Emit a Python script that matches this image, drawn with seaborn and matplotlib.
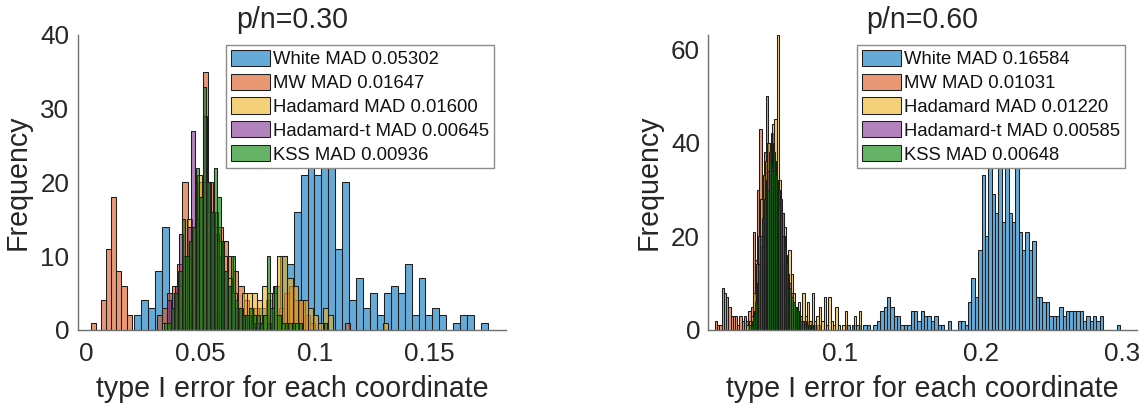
import numpy as np
import pandas as pd
import matplotlib
matplotlib.use("Agg")
import matplotlib.pyplot as plt
import seaborn as sns

# ---------------- data ----------------
series_names = ["White", "MW", "Hadamard", "Hadamard-t", "KSS"]
mad_030 = ["0.05302", "0.01647", "0.01600", "0.00645", "0.00936"]
mad_060 = ["0.16584", "0.01031", "0.01220", "0.00585", "0.00648"]
titles = ["p/n=0.30", "p/n=0.60"]

# p/n = 0.30  (first bin edge, bin width, counts per bin)
white_030_start, white_030_width = 0.0210, 0.00303
white_030_counts = [2, 4, 3, 8, 14, 5, 3, 2, 3, 2, 2, 1, 2, 1, 2, 1, 2, 2, 3, 4, 6, 10,
                    9, 16, 21, 23, 21, 26, 22, 11, 20,
                    4, 7, 3, 5, 2, 5, 6, 5, 9, 2, 7, 2, 3, 2, 0, 1, 2, 2, 0, 1]
mw_030_start, mw_030_width = 0.0022, 0.00222
mw_030_counts = [1, 0, 4, 11, 18, 8, 6, 2, 0, 0, 0, 0, 0, 2, 3, 5, 6, 9, 20, 12, 14, 20, 35,
                 20, 16, 14, 12, 10, 8, 6, 4, 3, 3, 2, 2, 1, 2, 3, 5, 6, 4, 4, 2, 1, 0, 0,
                 0, 0, 0, 0, 1]
had_030_start, had_030_width = 0.0330, 0.0022
had_030_counts = [1, 1, 3, 6, 10, 15, 14, 21, 20, 16, 14, 12, 10, 7, 5, 3, 5, 5, 5, 4, 6, 5,
                  5, 10, 10, 7, 6, 4, 4, 3, 2, 1, 3, 2, 0, 0, 0, 0, 0, 0, 0, 0, 0, 0, 1]
hadt_030_start, hadt_030_width = 0.0355, 0.00175
hadt_030_counts = [4, 3, 6, 13, 10, 14, 27, 15, 18, 29, 20, 16, 13, 10, 8, 6, 5, 3, 3, 2, 2,
                   1, 1, 1, 0, 1]
kss_030_start, kss_030_width = 0.0340, 0.00155
kss_030_counts = [1, 1, 3, 5, 8, 15, 10, 12, 14, 22, 18, 33, 20, 16, 22, 18, 12, 8, 6, 10, 4,
                  3, 2, 2, 3, 2, 2, 1, 2, 10, 3, 6, 2, 1, 1, 1, 1, 1, 1, 0, 0, 0, 0, 0, 0, 1]

# p/n = 0.60
white_060_start, white_060_width = 0.1045, 0.0024
white_060_counts = [1, 0, 1, 1, 0, 1, 1, 0, 1, 2, 4, 5, 7, 5, 3, 3, 1, 1, 1, 4, 4, 2, 4, 3,
                    3, 2, 3, 1, 1, 0, 2, 0, 0, 2, 2, 1, 6, 11, 7, 17, 33, 20, 38, 29, 25, 36,
                    23, 35, 25, 23, 40, 21, 17, 21, 17, 19, 7, 7, 6, 6, 3, 3, 3, 5, 3, 4, 4,
                    4, 4, 4, 2, 3, 2, 3, 2, 3, 0, 0, 0, 0, 1]
mw_060_start, mw_060_width = 0.0112, 0.00158
mw_060_counts = [2, 1, 1, 9, 8, 7, 5, 3, 3, 3, 1, 3, 2, 3, 2, 4, 5, 21, 15, 30, 43, 31, 38,
                 50, 40, 42, 35, 30, 25, 18, 14, 10, 7, 5, 4, 3, 2, 2, 1, 1, 2, 1, 2, 1, 0,
                 1, 1]
had_060_start, had_060_width = 0.0335, 0.00166
had_060_counts = [1, 2, 3, 8, 14, 20, 28, 33, 36, 40, 38, 44, 45, 63, 32, 25, 22, 15, 17, 12,
                  8, 5, 6, 2, 8, 3, 6, 2, 8, 2, 3, 5, 2, 7, 1, 7, 2, 1, 5, 1, 0, 1, 4, 0, 0,
                  1, 3, 0, 4]
hadt_060_start, hadt_060_width = 0.0365, 0.0013
hadt_060_counts = [1, 2, 4, 8, 12, 18, 22, 28, 30, 34, 38, 35, 40, 36, 32, 30, 28, 25, 20,
                   16, 12, 10, 8, 6, 5, 4, 3, 2, 2, 1, 1, 1]
kss_060_start, kss_060_width = 0.0355, 0.0013
kss_060_counts = [1, 1, 3, 6, 10, 14, 20, 24, 28, 32, 30, 36, 34, 38, 33, 30, 27, 24, 20, 18,
                  14, 12, 9, 7, 6, 5, 4, 3, 3, 2, 2, 1, 1, 1, 1]

x_ticks_030 = [0, 0.05, 0.1, 0.15]
x_ticklabels_030 = ["0", "0.05", "0.1", "0.15"]
y_ticks_030 = [0, 10, 20, 30, 40]
x_ticks_060 = [0.1, 0.2, 0.3]
x_ticklabels_060 = ["0.1", "0.2", "0.3"]
y_ticks_060 = [0, 20, 40, 60]

panels = [
    dict(series=[(white_030_start, white_030_width, white_030_counts),
                 (mw_030_start, mw_030_width, mw_030_counts),
                 (had_030_start, had_030_width, had_030_counts),
                 (hadt_030_start, hadt_030_width, hadt_030_counts),
                 (kss_030_start, kss_030_width, kss_030_counts)],
         mads=mad_030, title=titles[0], xlim=(-0.0036, 0.1834), ylim=(0, 40),
         xt=x_ticks_030, xtl=x_ticklabels_030, yt=y_ticks_030),
    dict(series=[(white_060_start, white_060_width, white_060_counts),
                 (mw_060_start, mw_060_width, mw_060_counts),
                 (had_060_start, had_060_width, had_060_counts),
                 (hadt_060_start, hadt_060_width, hadt_060_counts),
                 (kss_060_start, kss_060_width, kss_060_counts)],
         mads=mad_060, title=titles[1], xlim=(0.0065, 0.3107), ylim=(0, 63),
         xt=x_ticks_060, xtl=x_ticklabels_060, yt=y_ticks_060),
]

# ---------------- style ----------------
sns.set_theme(style="white")
plt.rcParams["font.family"] = ["Liberation Sans", "DejaVu Sans"]
TXT = "#262626"
colors = ["#0072BD", "#D95319", "#EDB120", "#7E2F8E", "#008000"]

fig = plt.figure(figsize=(11.46, 4.13), dpi=100)
axes = [fig.add_axes([0.0678, 0.2010, 0.3737, 0.7143]),
        fig.add_axes([0.6181, 0.2010, 0.3738, 0.7143])]

for ax, p in zip(axes, panels):
    for (start, width, counts), name, mad, col in zip(p["series"], series_names, p["mads"], colors):
        counts = np.asarray(counts, dtype=float)
        edges = start + width * np.arange(len(counts) + 1)
        df = pd.DataFrame({"value": edges[:-1] + width / 2, "count": counts})
        sns.histplot(data=df, x="value", weights="count", bins=[float(e) for e in edges],
                     ax=ax, color=col, alpha=0.6, edgecolor="#1e1e1e", linewidth=0.75,
                     label=f"{name} MAD {mad}")
    ax.set_xlim(*p["xlim"])
    ax.set_ylim(*p["ylim"])
    ax.set_xticks(p["xt"])
    ax.set_xticklabels(p["xtl"])
    ax.set_yticks(p["yt"])
    ax.tick_params(axis="both", direction="in", length=4, width=0.8, color=TXT,
                   labelsize=18.7, labelcolor=TXT)
    ax.tick_params(axis="x", pad=9)
    ax.tick_params(axis="y", pad=6)
    for s in ["top", "right"]:
        ax.spines[s].set_visible(False)
    for s in ["left", "bottom"]:
        ax.spines[s].set_color("#707070")
        ax.spines[s].set_linewidth(1.0)
    ax.set_xlabel("type I error for each coordinate", fontsize=20.6, color=TXT, labelpad=6)
    ax.set_ylabel("Frequency", fontsize=20.6, color=TXT, labelpad=6)
    ax.set_title(p["title"], fontsize=20.6, color=TXT, pad=5)
    leg = ax.legend(loc="upper right", bbox_to_anchor=(0.972, 0.966), borderaxespad=0,
                    fontsize=13.3, frameon=True, fancybox=False, framealpha=1,
                    edgecolor="#8c8c8c", handlelength=2.1, handleheight=0.96,
                    handletextpad=0.18, labelspacing=0.3, borderpad=0.25)
    leg.get_frame().set_linewidth(1.0)
    for t in leg.get_texts():
        t.set_color("#111111")

fig.savefig("out.png", dpi=100)
